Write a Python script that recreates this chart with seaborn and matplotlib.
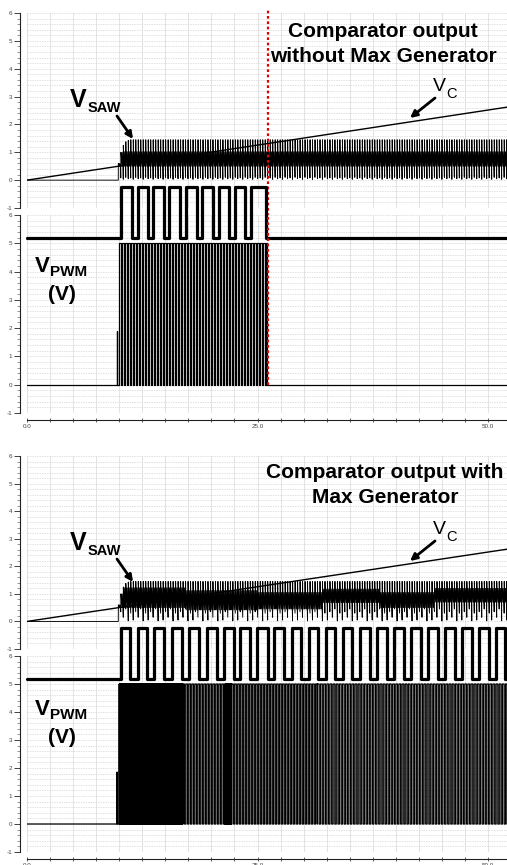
import numpy as np
import matplotlib
matplotlib.use("Agg")
import matplotlib.pyplot as plt
from matplotlib.ticker import MultipleLocator, FixedLocator
import seaborn as sns

W, H = 507, 865

# ---------------- data ----------------
T_END = 52.06
vc_time = [0.0, 52.06]
vc_volts = [0.0, 2.62]

# square wave drawn between the two axes of each panel (bottom-axes units)
sq_low, sq_high = 5.18, 7.0
sq1_rise = [10.23, 12.0, 13.7, 15.43, 17.24, 19.0, 20.8, 22.52, 24.26]
sq1_fall = [11.42, 13.16, 14.86, 16.63, 18.4, 20.2, 21.94, 23.68, 25.89]
sq2_rise = [10.23, 12.0, 13.8, 15.73, 17.6, 19.49, 21.37, 23.1, 24.98, 26.8,
            28.7, 30.55, 32.4, 34.25, 36.1, 37.95, 39.8, 41.65, 43.5, 45.35,
            47.2, 49.05, 50.9]
sq2_fall = [11.17, 12.98, 14.86, 16.78, 18.66, 20.57, 22.45, 24.19, 26.1, 27.9,
            29.75, 31.6, 33.45, 35.3, 37.15, 39.0, 40.85, 42.7, 44.55, 46.4,
            48.25, 50.1, 51.8]

# VSAW waveform description (one tooth: trough, peak, then ringing in the band)
saw_start = 9.9
saw_period = 0.27
saw_peak = 1.45
saw_tooth_frac = [0.0, 0.03, 0.1, 0.5, 0.56, 0.9]
saw_startup_peaks = [0.6, 1.0, 1.25, 1.38, 1.43]
saw1_seg_t = [9.9, 52.06]
saw1_band_hi = [1.02]
saw1_band_lo = [0.5]
saw1_troughs = [0.05, 0.08, 0.03, 0.1]
saw2_seg_t = [9.9, 17.0, 25.0, 32.0, 38.0, 44.0, 52.06]
saw2_band_hi = [1.22, 1.12, 1.05, 1.17, 1.05, 1.2]
saw2_band_lo = [0.5, 0.42, 0.45, 0.68, 0.5, 0.7]
saw2_troughs = [0.05, 0.35, 0.15, 0.45, 0.02, 0.3]

# PWM output
pwm_high = 5.0
pwm_duty = 0.55
pwm1_spike = (9.75, 1.9)
pwm1_start = [10.0]
pwm1_end = [26.0]
pwm1_period = [0.325]
pwm2_spike = (9.75, 1.85)
pwm2_start = [10.0, 16.9, 21.5, 22.2, 31.5]
pwm2_end = [16.9, 21.5, 22.2, 31.5, 52.06]
pwm2_period = [0.03, 0.325, 0.03, 0.325, 0.34]

cutoff_time = 26.1

x_major = [0, 25, 50]
x_major_labels = ["0.0", "25.0", "50.0"]
y_ticks = [-1, 0, 1, 2, 3, 4, 5, 6]


# ---------------- waveform builders ----------------
def build_square(rises, falls):
    t, v = [0.0], [sq_low]
    for r, f in zip(rises, falls):
        t += [r, r, f, f]
        v += [sq_low, sq_high, sq_high, sq_low]
    t.append(T_END)
    v.append(sq_low)
    return np.array(t), np.array(v)


def build_saw(seg_t, band_hi, band_lo, troughs):
    t, v = [0.0, saw_start], [0.0, 0.0]
    k = 0
    t0 = saw_start
    while t0 < T_END + saw_period:
        seg = int(np.searchsorted(seg_t, t0, side="right")) - 1
        seg = min(max(seg, 0), len(band_hi) - 1)
        pk = saw_startup_peaks[k] if k < len(saw_startup_peaks) else saw_peak
        hi = min(band_hi[seg], pk)
        lo = min(band_lo[seg], hi)
        tr = 0.0 if k == 0 else troughs[k % len(troughs)]
        for f, val in zip(saw_tooth_frac, [tr, pk, hi, lo, hi, lo]):
            t.append(t0 + f * saw_period)
            v.append(val)
        t0 += saw_period
        k += 1
    return np.array(t), np.array(v)


def build_pwm(spike, starts, ends, periods):
    st, sv = spike
    t = [0.0, st, st, st + 0.03, st + 0.03]
    v = [0.0, 0.0, sv, sv, 0.0]
    for s, e, p in zip(starts, ends, periods):
        t0 = s
        while t0 < e - 1e-9:
            t1 = min(t0 + pwm_duty * p, e)
            t += [t0, t0, t1, t1]
            v += [0.0, pwm_high, pwm_high, 0.0]
            t0 += p
    t.append(T_END)
    v.append(0.0)
    return np.array(t), np.array(v)


# ---------------- style ----------------
sns.set_theme(style="white")
plt.rcParams["font.family"] = ["Liberation Sans", "DejaVu Sans"]
plt.rcParams["text.color"] = "black"

fig = plt.figure(figsize=(W / 100, H / 100), dpi=100)
fig.patch.set_facecolor("white")


def rect(top_px, bot_px):
    return [27 / W, 1 - bot_px / H, (W - 27) / W, (bot_px - top_px) / H]


def style_axes(ax, show_x):
    ax.set_xlim(0, T_END)
    ax.set_ylim(-1, 6)
    ax.set_facecolor("white")
    ax.yaxis.set_major_locator(FixedLocator(y_ticks))
    ax.set_yticklabels([str(y) for y in y_ticks])
    ax.yaxis.set_minor_locator(MultipleLocator(0.2))
    ax.xaxis.set_major_locator(FixedLocator(x_major))
    ax.xaxis.set_minor_locator(MultipleLocator(2.5))
    ax.grid(False)
    ax.grid(which="minor", axis="x", color="#dedede", lw=0.6, ls="-")
    ax.grid(which="major", axis="x", color="#dedede", lw=0.6, ls="-")
    ax.grid(which="both", axis="y", color="#d4d4d4", lw=0.5, ls=(0, (2, 1.5)))
    for s in ["top", "right"]:
        ax.spines[s].set_visible(False)
    ax.spines["left"].set_position(("outward", 5))
    ax.spines["left"].set_color("#222222")
    ax.spines["left"].set_linewidth(0.8)
    ax.tick_params(axis="y", which="major", direction="out", length=4, width=0.6,
                   labelsize=4.5, labelcolor="#444444", color="#222222", pad=1.5, left=True)
    ax.tick_params(axis="y", which="minor", direction="out", length=2, width=0.4,
                   color="#444444", left=True)
    if show_x:
        ax.spines["bottom"].set_position(("outward", 5))
        ax.spines["bottom"].set_color("#222222")
        ax.spines["bottom"].set_linewidth(0.8)
        ax.set_xticklabels(x_major_labels)
        ax.tick_params(axis="x", which="both", direction="inout", length=3, width=0.5,
                       labelsize=4.5, labelcolor="#444444", color="#222222", pad=1.5,
                       bottom=True)
    else:
        ax.spines["bottom"].set_visible(False)
        ax.tick_params(axis="x", which="both", length=0, labelbottom=False)
    ax.set_xlabel("")
    ax.set_ylabel("")


def fpx(x, y):
    return x / W, 1 - y / H


def sub_label(x, y_base, main, sub, main_size, sub_size, dx_sub, dy_sub):
    fig.text(*fpx(x, y_base), main, fontsize=main_size, fontweight="bold",
             ha="left", va="baseline", color="black")
    fig.text(*fpx(x + dx_sub, y_base + dy_sub), sub, fontsize=sub_size,
             fontweight="bold", ha="left", va="baseline", color="black")


def arrow(tail, tip):
    fig.add_artist(matplotlib.patches.FancyArrowPatch(
        fpx(*tail), fpx(*tip), transform=fig.transFigure,
        arrowstyle="-|>", mutation_scale=10, lw=2.0, color="black",
        shrinkA=0, shrinkB=0))


panels = [
    dict(top=(13, 208), bot=(215, 413), rise=sq1_rise, fall=sq1_fall,
         saw=(saw1_seg_t, saw1_band_hi, saw1_band_lo, saw1_troughs),
         pwm=(pwm1_spike, pwm1_start, pwm1_end, pwm1_period), cutoff=True, off=0),
    dict(top=(456, 649), bot=(656, 852), rise=sq2_rise, fall=sq2_fall,
         saw=(saw2_seg_t, saw2_band_hi, saw2_band_lo, saw2_troughs),
         pwm=(pwm2_spike, pwm2_start, pwm2_end, pwm2_period), cutoff=False, off=443),
]

for p in panels:
    ax_t = fig.add_axes(rect(*p["top"]))
    ax_b = fig.add_axes(rect(*p["bot"]))

    st, sv = build_saw(*p["saw"])
    sns.lineplot(x=st, y=sv, ax=ax_t, sort=False, estimator=None,
                 color="black", lw=0.65)
    sns.lineplot(x=vc_time, y=vc_volts, ax=ax_t, sort=False, estimator=None,
                 color="black", lw=1.0, zorder=5)

    pt, pv = build_pwm(*p["pwm"])
    sns.lineplot(x=pt, y=pv, ax=ax_b, sort=False, estimator=None,
                 color="black", lw=0.9)
    sqt, sqv = build_square(p["rise"], p["fall"])
    sns.lineplot(x=sqt, y=sqv, ax=ax_b, sort=False, estimator=None,
                 color="black", lw=2.3, zorder=6)
    ax_b.lines[-1].set_clip_on(False)
    style_axes(ax_t, False)
    style_axes(ax_b, True)

    if p["cutoff"]:
        ax_t.axvline(cutoff_time, ymin=-0.04, ymax=1.026, clip_on=False,
                     color="#e60000", lw=1.6, ls=(0, (1.2, 1.2)), zorder=8)
        ax_b.axvline(cutoff_time, ymin=1 / 7, ymax=1.0, clip_on=False,
                     color="#e60000", lw=1.6, ls=(0, (1.2, 1.2)), zorder=8)

    o = p["off"]
    # V_SAW
    sub_label(70, 107 + o, "V", "SAW", 18, 10.5, 18, 5)
    arrow((117, 116 + o), (133, 139 + o))
    # V_PWM (V)
    sub_label(35, 272 + o, "V", "PWM", 16, 11, 15, 4)
    fig.text(*fpx(62, 300 + o), "(V)", fontsize=15, fontweight="bold",
             ha="center", va="baseline", color="black")
    # V_C
    fig.text(*fpx(433, 91 + o), "V", fontsize=14,
             ha="left", va="baseline", color="black")
    fig.text(*fpx(446, 98 + o), "C", fontsize=10.5,
             ha="left", va="baseline", color="black")
    arrow((435, 98 + o), (410, 118 + o))

fig.text(*fpx(383, 37), "Comparator output", fontsize=15, fontweight="bold",
         ha="center", va="baseline", color="black")
fig.text(*fpx(383, 62), "without Max Generator", fontsize=15, fontweight="bold",
         ha="center", va="baseline", color="black")
fig.text(*fpx(385, 478), "Comparator output with", fontsize=15, fontweight="bold",
         ha="center", va="baseline", color="black")
fig.text(*fpx(385, 503), "Max Generator", fontsize=15, fontweight="bold",
         ha="center", va="baseline", color="black")

fig.savefig("out.png", dpi=100, facecolor="white")
